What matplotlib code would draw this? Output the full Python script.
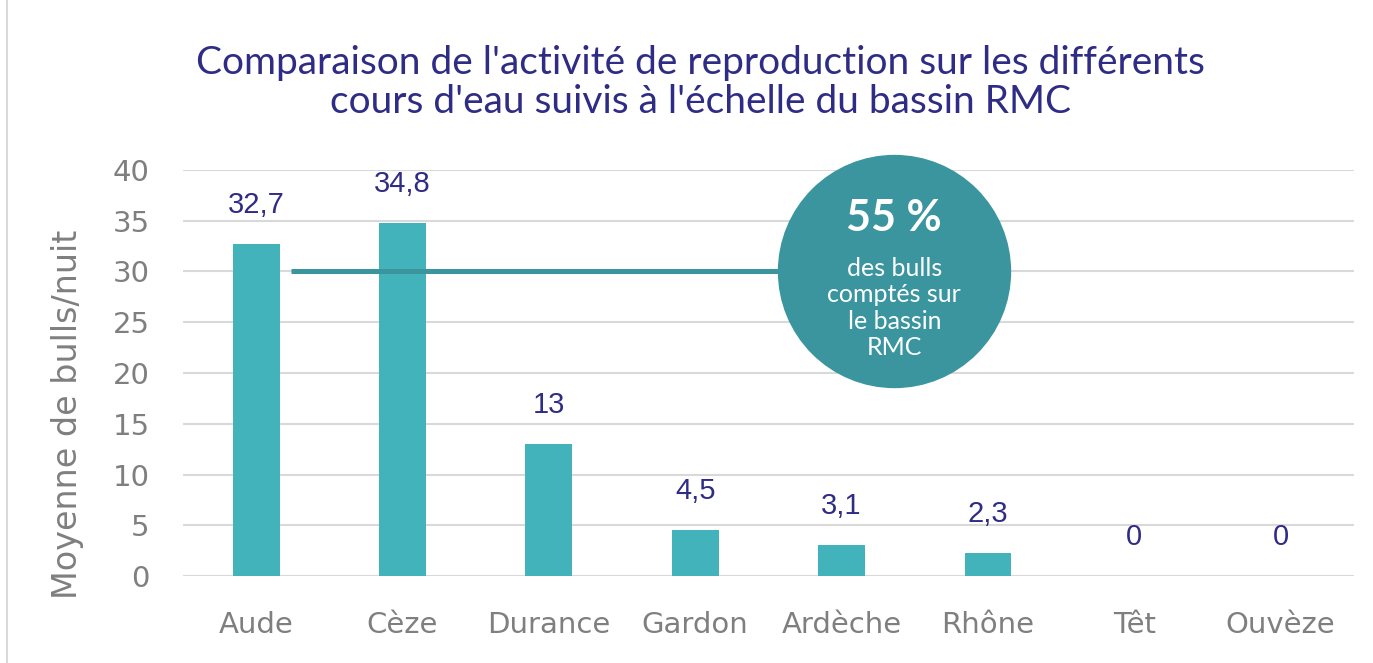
import matplotlib.pyplot as plt
from matplotlib.lines import Line2D

# data
rivers = ["Aude", "Cèze", "Durance", "Gardon", "Ardèche", "Rhône", "Têt", "Ouvèze"]
bulls_per_night = [32.7, 34.8, 13, 4.5, 3.1, 2.3, 0, 0]
value_labels = ["32,7", "34,8", "13", "4,5", "3,1", "2,3", "0", "0"]
share_text = "55 %"
share_caption = "des bulls\ncomptés sur\nle bassin\nRMC"

bar_color = "#42b3bb"
circle_color = "#3a959f"
navy = "#2f2c85"
grey = "#7f7f7f"

fig = plt.figure(figsize=(13.73, 6.63), dpi=100)
ax = fig.add_axes([0.1333, 0.1312, 0.8527, 0.6124])

x = list(range(len(rivers)))
ax.bar(x, bulls_per_night, width=0.32, color=bar_color, zorder=2)

for xi, v, lab in zip(x, bulls_per_night, value_labels):
    ax.annotate(lab, (xi, v), xytext=(0, 28), textcoords="offset points",
                ha="center", va="center", fontsize=21, color=navy,
                family="Liberation Sans")

ax.set_xlim(-0.5, len(rivers) - 0.5)
ax.set_ylim(0, 40)
ax.set_yticks(range(0, 41, 5))
ax.set_xticks(x)
ax.set_xticklabels(rivers)
ax.tick_params(axis="both", length=0, labelsize=21, labelcolor=grey)
ax.tick_params(axis="y", pad=24)
ax.tick_params(axis="x", pad=25)
ax.yaxis.grid(True, color="#d9d9d9", linewidth=1.5, zorder=0)
ax.set_axisbelow(True)
for s in ax.spines.values():
    s.set_visible(False)
ax.set_ylabel("Moyenne de bulls/nuit", fontsize=24, color=grey)
ax.yaxis.set_label_coords(-0.085, 0.397)

# connector line + bubble
cx, cy = 4.36, 30
ax.plot([0.24, cx], [cy, cy], color=circle_color, linewidth=3.6, zorder=3,
        solid_capstyle="butt", clip_on=False)
ax.scatter([cx], [cy], s=168 ** 2, color=circle_color, zorder=4, clip_on=False,
           linewidths=0)
ax.text(cx, 35.3, share_text, ha="center", va="center", fontsize=31,
        fontweight="bold", color="white", family="Lato", zorder=5)
ax.text(cx, 26.4, share_caption, ha="center", va="center", fontsize=18,
        color="white", family="Lato", linespacing=1.18, zorder=5)

fig.text(700 / 1373, 0.875,
         "Comparaison de l'activité de reproduction sur les différents\n"
         "cours d'eau suivis à l'échelle du bassin RMC",
         ha="center", va="center", fontsize=28, color=navy, family="Lato",
         linespacing=1.1)

# thin frame line on the left edge
fig.add_artist(Line2D([7 / 1373, 7 / 1373], [0, 1], color="#d9d9d9", linewidth=1.5))

fig.savefig("out.png", dpi=100)
